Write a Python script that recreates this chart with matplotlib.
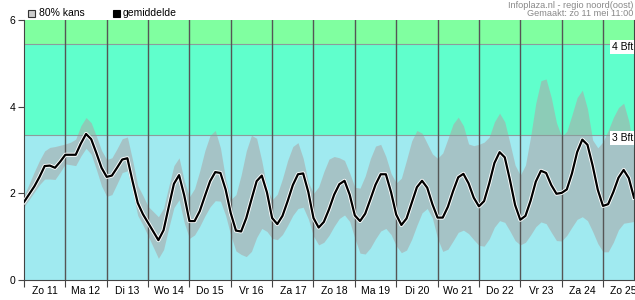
import numpy as np
import matplotlib
matplotlib.use('Agg')
import matplotlib.pyplot as plt
import matplotlib.patheffects as pe
from matplotlib.patches import Rectangle

plt.rcParams['font.family'] = ['Liberation Sans', 'DejaVu Sans']

# windverwachting (m/s), elke 3 uur vanaf zo 11 mei 00:00
uren = np.arange(0, 355, 3)

gemiddelde = [1.80, 1.98, 2.16, 2.38, 2.63, 2.64, 2.59, 2.73,
              2.89, 2.89, 2.89, 3.15, 3.37, 3.25, 2.93, 2.59,
              2.38, 2.41, 2.59, 2.78, 2.81, 2.28, 1.78, 1.52,
              1.32, 1.12, 0.92, 1.15, 1.69, 2.22, 2.42, 1.95,
              1.36, 1.36, 1.59, 1.94, 2.28, 2.49, 2.47, 2.09,
              1.54, 1.14, 1.12, 1.43, 1.86, 2.28, 2.41, 2.02,
              1.43, 1.29, 1.48, 1.82, 2.19, 2.44, 2.46, 2.03,
              1.43, 1.21, 1.34, 1.63, 1.97, 2.21, 2.29, 1.97,
              1.49, 1.36, 1.53, 1.86, 2.20, 2.44, 2.44, 2.03,
              1.51, 1.27, 1.42, 1.78, 2.14, 2.29, 2.13, 1.75,
              1.44, 1.44, 1.69, 2.05, 2.37, 2.45, 2.23, 1.90,
              1.70, 1.82, 2.23, 2.70, 2.95, 2.83, 2.31, 1.73,
              1.39, 1.48, 1.83, 2.27, 2.52, 2.47, 2.19, 1.99,
              2.01, 2.09, 2.46, 2.95, 3.24, 3.12, 2.64, 2.08,
              1.71, 1.75, 2.03, 2.36, 2.54, 2.35, 1.90]

boven = [1.95, 2.22, 2.50, 2.76, 2.98, 3.06, 3.08, 3.11,
         3.14, 3.18, 3.25, 3.56, 3.75, 3.63, 3.32, 2.99,
         2.78, 2.82, 3.03, 3.26, 3.30, 2.77, 2.18, 1.95,
         1.70, 1.58, 1.46, 1.66, 2.16, 2.64, 2.82, 2.29,
         1.92, 2.11, 2.52, 2.99, 3.34, 3.45, 3.05, 2.33,
         1.86, 1.97, 2.42, 2.98, 3.34, 3.27, 2.75, 2.13,
         1.85, 1.98, 2.34, 2.76, 3.08, 3.17, 2.81, 2.26,
         2.00, 2.15, 2.50, 2.79, 2.85, 2.82, 2.76, 2.47,
         2.14, 2.12, 2.40, 2.80, 3.09, 3.13, 2.85, 2.46,
         2.24, 2.35, 2.77, 3.21, 3.45, 3.39, 3.15, 2.91,
         2.81, 2.93, 3.26, 3.60, 3.76, 3.56, 3.14, 3.10,
         3.13, 3.18, 3.30, 3.65, 3.85, 3.65, 3.16, 2.65,
         2.42, 2.65, 3.31, 4.08, 4.60, 4.64, 4.21, 3.63,
         3.31, 3.43, 3.81, 4.21, 4.38, 3.95, 3.23, 3.05,
         3.19, 3.45, 3.75, 3.98, 4.08, 3.66, 2.97]

onder = [1.69, 1.86, 2.03, 2.20, 2.33, 2.33, 2.32, 2.49,
         2.68, 2.66, 2.64, 2.86, 3.04, 2.90, 2.55, 2.17,
         1.93, 1.97, 2.22, 2.48, 2.52, 2.04, 1.49, 1.27,
         1.02, 0.76, 0.50, 0.70, 1.20, 1.67, 1.85, 1.32,
         0.96, 1.04, 1.24, 1.48, 1.69, 1.83, 1.82, 1.49,
         1.03, 0.67, 0.59, 0.54, 0.66, 0.98, 1.19, 1.12,
         0.96, 0.93, 1.05, 1.26, 1.49, 1.65, 1.68, 1.41,
         1.01, 0.81, 0.87, 1.03, 1.24, 1.42, 1.50, 1.35,
         0.96, 0.62, 0.60, 0.74, 0.95, 1.13, 1.19, 1.05,
         0.79, 0.63, 0.69, 0.94, 1.26, 1.55, 1.65, 1.43,
         0.96, 0.66, 0.71, 0.90, 1.10, 1.15, 1.07, 0.93,
         0.80, 0.78, 0.95, 1.22, 1.37, 1.33, 1.13, 0.91,
         0.81, 0.87, 1.04, 1.23, 1.34, 1.30, 1.10, 0.91,
         0.90, 1.03, 1.22, 1.40, 1.46, 1.37, 1.12, 0.84,
         0.65, 0.65, 0.87, 1.16, 1.31, 1.33, 1.35]

dagen = ['Zo 11', 'Ma 12', 'Di 13', 'Wo 14', 'Do 15', 'Vr 16', 'Za 17',
         'Zo 18', 'Ma 19', 'Di 20', 'Wo 21', 'Do 22', 'Vr 23', 'Za 24', 'Zo 25']

bft_grens = [3.35, 5.45]
bft_label = ['3 Bft', '4 Bft']

t = uren / 24.0

fig = plt.figure(figsize=(6.35, 3.0), dpi=100)
ax = fig.add_axes([24/635, 20/300, 610/635, 260/300])

# achtergrond per beaufort-klasse
ax.axhspan(0, bft_grens[0], color='#a0eaf0', zorder=0, lw=0)
ax.axhspan(bft_grens[0], bft_grens[1], color='#60ffcc', zorder=0, lw=0)
ax.axhspan(bft_grens[1], 6, color='#80ffa0', zorder=0, lw=0)

ax.fill_between(t, onder, boven, color='#aaaaaa', alpha=0.6, lw=0, zorder=1)

for g in bft_grens:
    ax.axhline(g, color='#8c9c9c', lw=0.8, zorder=2)

for d in range(1, 15):
    ax.axvline(d, color='#555555', lw=1.0, zorder=3)

ax.plot(t, gemiddelde, color='black', lw=1.6, zorder=5,
        path_effects=[pe.Stroke(linewidth=2.9, foreground='white'), pe.Normal()])

for g, lab in zip(bft_grens, bft_label):
    ax.text(14.72, g - 0.07, lab, ha='right', va='center', fontsize=7.5, zorder=6,
            bbox=dict(facecolor='white', edgecolor='none', pad=1.2))

ax.set_xlim(0, 14.75)
ax.set_ylim(0, 6)

ax.set_xticks(np.arange(0, 15))
ax.set_xticklabels([])
ax.set_xticks(np.arange(15) + 0.5, minor=True)
ax.set_xticklabels(dagen, minor=True)
ax.tick_params(axis='x', which='major', length=5, color='#444444')
ax.tick_params(axis='x', which='minor', length=0, pad=4, labelsize=7.5)
ax.set_yticks([0, 2, 4, 6])
ax.tick_params(axis='y', length=4, color='#444444', labelsize=7.5, pad=2)

for s in ['left', 'bottom', 'right']:
    ax.spines[s].set_color('#444444')
ax.spines['top'].set_visible(False)

# legenda boven de grafiek
fig.patches.append(Rectangle((28/635, 1 - 17/300), 7/635, 7/300, transform=fig.transFigure,
                             facecolor='#cccccc', edgecolor='#333333', lw=0.8))
fig.text(39/635, 1 - 13/300, '80% kans', va='center', fontsize=7.5)
fig.patches.append(Rectangle((113/635, 1 - 17/300), 7/635, 7/300, transform=fig.transFigure,
                             facecolor='black', edgecolor='black', lw=0.8))
fig.text(123/635, 1 - 13/300, 'gemiddelde', va='center', fontsize=7.5)

fig.text(633/635, 1 - 5/300, 'Infoplaza.nl - regio noord(oost)', ha='right', va='center',
         fontsize=6.6, color='#888888')
fig.text(633/635, 1 - 13.5/300, 'Gemaakt: zo 11 mei 11:00', ha='right', va='center',
         fontsize=6.6, color='#888888')

fig.savefig('out.png', dpi=100)
